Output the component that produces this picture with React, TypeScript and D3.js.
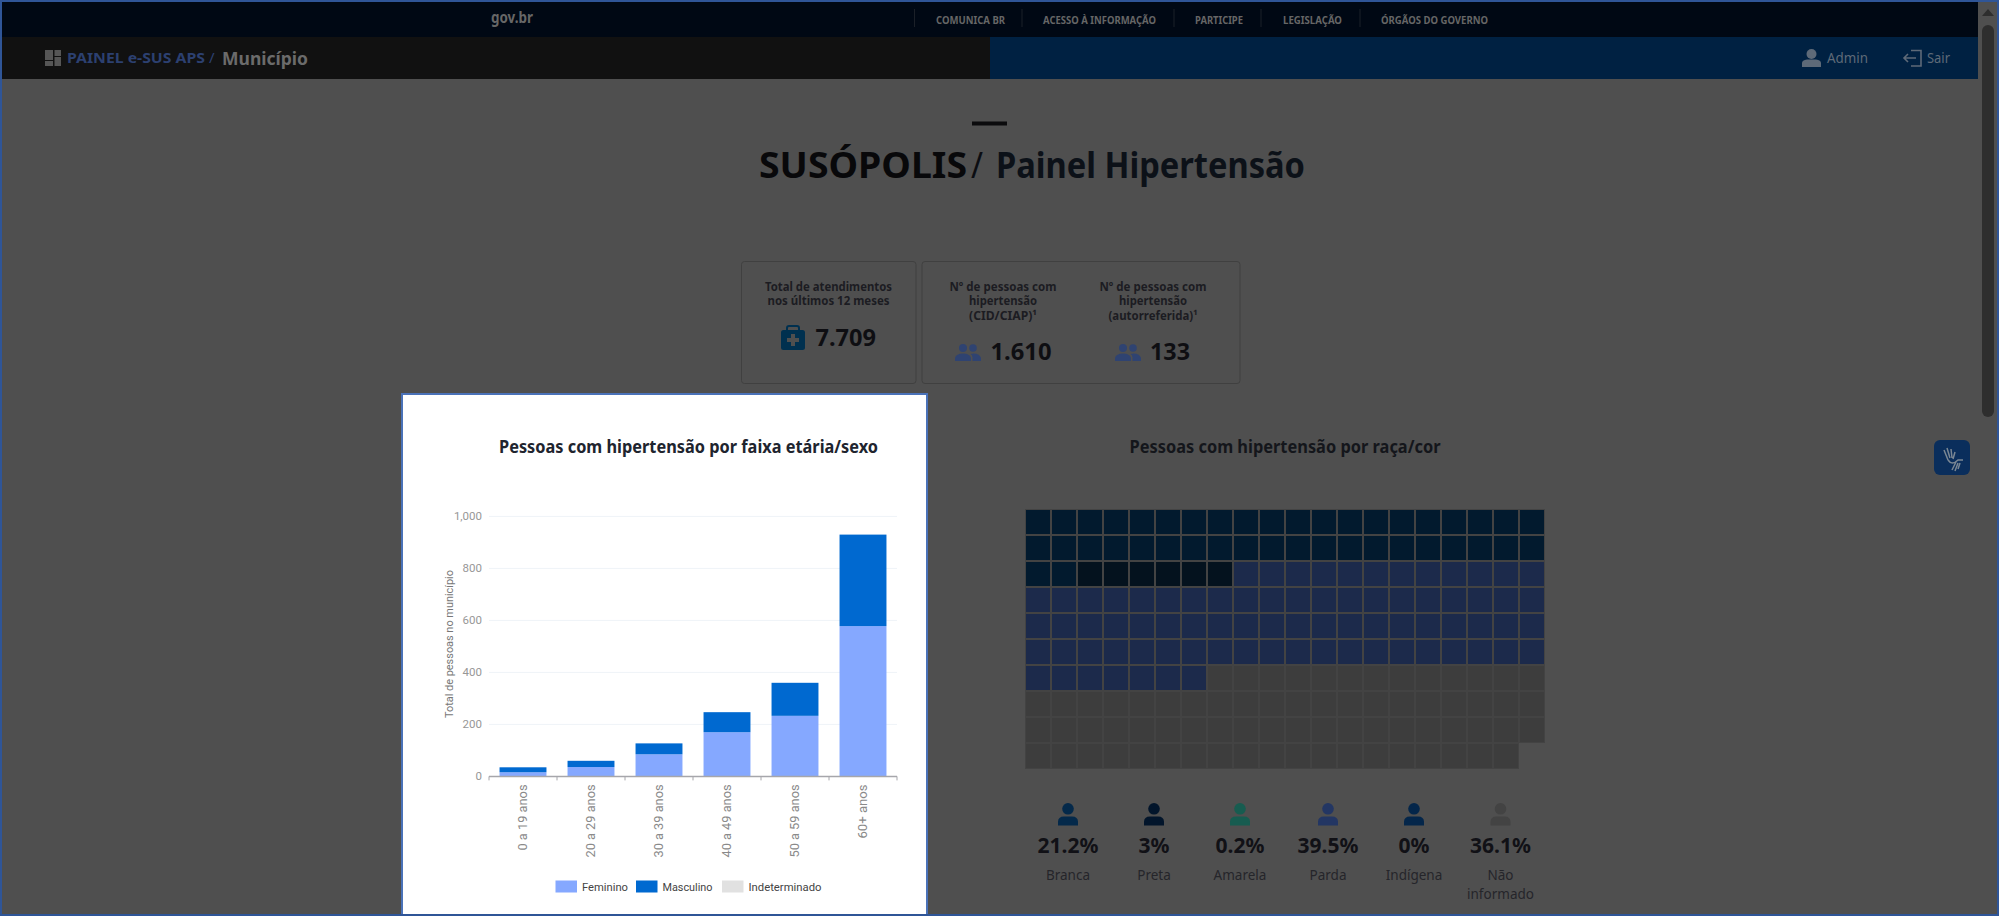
import React from "react";
import * as d3 from "d3";

const ageGroups = ["0 a 19 anos", "20 a 29 anos", "30 a 39 anos", "40 a 49 anos", "50 a 59 anos", "60+ anos"];
const feminino = [16, 36, 85, 170, 233, 578];
const masculino = [19, 24, 42, 77, 127, 352];
const indeterminado = [0, 0, 0, 0, 0, 0];
const yTicks = [0, 200, 400, 600, 800, 1000];
const sexLabels = ["Feminino", "Masculino", "Indeterminado"];
const sexColors = ["#85a8ff", "#0069d0", "#e1e1e1"];

const raceLabels = ["Branca", "Preta", "Amarela", "Parda", "Indígena", "Não informado"];
const racePercents = ["21.2%", "3%", "0.2%", "39.5%", "0%", "36.1%"];
const raceCells = [42, 6, 0, 79, 0, 72];
const raceCellColors = ["#021a2e", "#04121e", "#175c50", "#1c2a4b", "#04264a", "#3d3d3d"];
const raceIconColors = ["#04294a", "#02152b", "#175c50", "#233663", "#04264a", "#434343"];

const navItems = ["COMUNICA BR", "ACESSO À INFORMAÇÃO", "PARTICIPE", "LEGISLAÇÃO", "ÓRGÃOS DO GOVERNO"];
const navX = [936, 1043, 1195, 1283, 1381];
const navW = [69, 113, 48, 59, 107];
const navSep = [914.5, 1022, 1174, 1261, 1360];

const FONT = "'Noto Sans', sans-serif";

type TP = { x: number; y: number; s: number; w?: number; c: string; a?: string; l?: number; f?: string; t?: string; children: React.ReactNode };
function T({ x, y, s, w = 400, c, a = "start", l, f = FONT, t, children }: TP) {
  return (
    <text x={x} y={y} fontSize={s} fontWeight={w} fill={c} textAnchor={a} fontFamily={f} transform={t}
      {...(l ? { textLength: l, lengthAdjust: "spacingAndGlyphs" } : {})}>
      {children}
    </text>
  );
}

function Person({ cx, top, color }: { cx: number; top: number; color: string }) {
  return (
    <g transform={`translate(${cx},${top})`} fill={color}>
      <circle cx={0} cy={5.8} r={5.8} />
      <path d="M-10 22.5 V19 Q-10 13.5 -4 13.5 H4 Q10 13.5 10 19 V22.5 Z" />
    </g>
  );
}
function Group({ x, y, color }: { x: number; y: number; color: string }) {
  return (
    <g transform={`translate(${x},${y})`} fill={color}>
      <circle cx={8} cy={4} r={4} />
      <circle cx={18} cy={4} r={3.8} />
      <path d="M0 17 V14 Q1 9.5 8 9.5 Q15 9.5 16 14 V17 Z" />
      <path d="M17.5 17 V13.5 Q17.5 11 15.5 10 Q17 9.4 18.5 9.4 Q25 9.5 26 14 V17 Z" />
    </g>
  );
}

export default function App() {
  const x = d3.scaleBand<string>().domain(ageGroups).range([489, 897]).paddingInner(0.31).paddingOuter(0.155);
  const xOuter = d3.scaleBand<string>().domain(ageGroups).range([489, 897]);
  const y = d3.scaleLinear().domain([0, 1000]).range([776.4, 516.4]);
  const stack = d3.stack<any>().keys(["f", "m", "i"])(
    ageGroups.map((g, i) => ({ g, f: feminino[i], m: masculino[i], i: indeterminado[i] }))
  );

  const cols = d3.scaleBand<number>().domain(d3.range(20)).range([1025, 1545]);
  const rows = d3.scaleBand<number>().domain(d3.range(10)).range([509, 769]);
  const cells: { color: string; idx: number }[] = [];
  raceCells.forEach((n, k) => d3.range(n).forEach(() => cells.push({ color: raceCellColors[k], idx: cells.length })));

  const statX = [1068, 1154, 1240, 1328, 1414, 1500.5];

  return (
    <svg width={1999} height={916} viewBox="0 0 1999 916"
      style={{ position: "absolute", left: 0, top: 0, display: "block", background: "#4f4f4f" }}>
      {/* top bars */}
      <rect x={0} y={0} width={1978} height={37} fill="#000814" />
      <rect x={0} y={37} width={990} height={42} fill="#111111" />
      <rect x={990} y={37} width={988} height={42} fill="#002142" />
      <T x={491} y={23} s={16} w={700} c="#666666" l={42}>gov.br</T>
      {navItems.map((n, i) => (
        <g key={n}>
          <line x1={navSep[i]} x2={navSep[i]} y1={9} y2={27} stroke="#1b2028" />
          <T x={navX[i]} y={23.5} s={10} w={700} c="#666666" l={navW[i]}>{n}</T>
        </g>
      ))}
      <g fill="#565656">
        <rect x={45} y={50} width={8} height={10} />
        <rect x={54.5} y={50} width={6.5} height={6} />
        <rect x={45} y={61} width={8} height={5} />
        <rect x={54.5} y={57} width={6.5} height={9} />
      </g>
      <T x={67} y={63} s={14} w={700} c="#2c4070" l={138}>PAINEL e-SUS APS</T>
      <T x={209} y={63} s={15} c="#2c4070">/</T>
      <T x={222} y={65} s={18} w={700} c="#6b6b6b" l={86}>Município</T>
      <g fill="#5e6a78">
        <circle cx={1811.5} cy={54} r={5} />
        <path d="M1802 67 V63 Q1802 60 1807 59.5 H1816 Q1821 60 1821 63 V67 Z" />
      </g>
      <T x={1827} y={63} s={14} c="#5e6a78" l={41}>Admin</T>
      <g fill="none" stroke="#5e6a78" strokeWidth={1.6}>
        <path d="M1911 50.5 H1921 V66 H1911" />
        <path d="M1916 58 H1904 M1908 54 L1904 58 L1908 62" />
      </g>
      <T x={1927} y={63} s={14} c="#5e6a78" l={23}>Sair</T>

      {/* scrollbar */}
      <path d="M1988 9 L1994 16 H1982 Z" fill="#2e2e2e" />
      <rect x={1982} y={25} width={12} height={392} rx={6} fill="#2e2e2e" />
      <rect x={1934} y={440} width={36} height={35} rx={6} fill="#0a2e5c" />
      <g stroke="#7a8794" strokeWidth={1.5} fill="none">
        <path d="M1944 450 L1948 460 M1947 448 L1950 458 M1951 449 L1952 458 M1955 452 L1953 459" />
        <path d="M1948 460 Q1952 466 1958 460 L1963 460 M1952 470 L1956 462 M1955 471 L1958 463 M1958 469 L1960 463" />
      </g>

      {/* page heading */}
      <rect x={972} y={121.5} width={35} height={4} fill="#0b0b0d" />
      <T x={759} y={177.5} s={36} w={700} c="#08080a" l={208}>SUSÓPOLIS</T>
      <T x={971} y={177.5} s={36} w={400} c="#0b0d12" l={12}>/</T>
      <T x={996} y={177.5} s={36} w={700} c="#0c1118" l={309}>Painel Hipertensão</T>

      {/* cards */}
      <rect x={741.5} y={261.5} width={174.5} height={122} rx={3} fill="none" stroke="#404040" />
      <rect x={922} y={261.5} width={318} height={122} rx={3} fill="none" stroke="#404040" />
      <T x={828.5} y={290.5} s={12.5} w={700} c="#1c1c22" a="middle" l={127}>Total de atendimentos</T>
      <T x={828.5} y={305.2} s={12.5} w={700} c="#1c1c22" a="middle" l={122}>nos últimos 12 meses</T>
      <g>
        <path d="M787 330 V328 Q787 326 789 326 H797 Q799 326 799 328 V330" fill="none" stroke="#00304f" strokeWidth={2} />
        <rect x={781} y={330} width={24} height={20} rx={2.5} fill="#00304f" />
        <path d="M791 334 H795 V338 H799 V342 H795 V346 H791 V342 H787 V338 H791 Z" fill="#4f4f4f" />
      </g>
      <T x={815.5} y={346} s={23} w={700} c="#0e0e12" l={60.5}>7.709</T>
      {[["Nº de pessoas com", "hipertensão", "(CID/CIAP)¹"], ["Nº de pessoas com", "hipertensão", "(autorreferida)¹"]].map((lines, k) =>
        lines.map((ln, i) => (
          <T key={ln + k} x={k ? 1153 : 1003} y={290.5 + i * 14.6} s={12.5} w={700} c="#1c1c22" a="middle"
            l={[107, 68, k ? 89 : 68][i]}>{ln}</T>
        ))
      )}
      <Group x={955} y={344} color="#2f4371" />
      <T x={990.5} y={360} s={23} w={700} c="#0e0e12" l={61}>1.610</T>
      <Group x={1115} y={344} color="#2f4371" />
      <T x={1150} y={360} s={23} w={700} c="#0e0e12" l={40}>133</T>

      {/* highlighted card */}
      <rect x={402} y={394} width={525} height={522} fill="#ffffff" />
      <path d="M402 916 V394 H927 V916" fill="none" stroke="#4a72b8" strokeWidth={2} />
      <line x1={402} x2={927} y1={914.5} y2={914.5} stroke="#b0b3b8" strokeWidth={1} />
      <T x={499} y={452.5} s={17} w={700} c="#20242e" l={379}>Pessoas com hipertensão por faixa etária/sexo</T>

      {yTicks.filter((t) => t > 0).map((t) => (
        <line key={t} x1={489} x2={897} y1={y(t)} y2={y(t)} stroke="#eff3f8" strokeWidth={1} />
      ))}
      {yTicks.map((t) => (
        <T key={t} x={482} y={y(t) + 4} s={11.5} c="#979797" a="end" f="Roboto, sans-serif">{d3.format(",")(t)}</T>
      ))}
      <T x={0} y={0} s={11} c="#777777" a="middle" l={148} f="Roboto, sans-serif" t="translate(453,644) rotate(-90)">Total de pessoas no município</T>

      {stack.map((layer, k) => (
        <g key={k} fill={sexColors[k]}>
          {layer.map((d, i) => (
            <rect key={i} x={x(ageGroups[i])} width={x.bandwidth()} y={y(d[1])} height={y(d[0]) - y(d[1])} />
          ))}
        </g>
      ))}

      <g stroke="#a6a6ab" fill="none">
        <line x1={489} x2={897} y1={y(0)} y2={y(0)} strokeWidth={1.5} />
        {[...ageGroups.map((g) => xOuter(g)!), 897].map((v) => (
          <line key={v} x1={v} x2={v} y1={y(0)} y2={y(0) + 4} />
        ))}
      </g>
      {ageGroups.map((g) => (
        <T key={g} x={0} y={0} s={12} c="#8a8a8a" a="end" f="Roboto, sans-serif"
          t={`translate(${xOuter(g)! + xOuter.bandwidth() / 2 + 4},784.5) rotate(-90)`}
          l={g === "60+ anos" ? 54 : g === "0 a 19 anos" ? 66 : 73}>{g}</T>
      ))}

      {sexLabels.map((s, i) => {
        const sx = [555.5, 636, 722][i];
        const w = [46, 50, 73][i];
        return (
          <g key={s}>
            <rect x={sx} y={880.5} width={21.5} height={12} fill={sexColors[i]} />
            <T x={sx + 26.5} y={891} s={11.5} c="#444" l={w} f="Roboto, sans-serif">{s}</T>
          </g>
        );
      })}

      {/* waffle */}
      <T x={1285} y={452.5} s={17} w={700} c="#14161b" a="middle" l={311}>Pessoas com hipertensão por raça/cor</T>
      {cells.map((c) => (
        <rect key={c.idx}
          x={cols(c.idx % 20)! + 0.5}
          y={rows(Math.floor(c.idx / 20))! + 0.5}
          width={cols.bandwidth() - 1}
          height={rows.bandwidth() - 1}
          fill={c.color} stroke="#434343" strokeWidth={1} />
      ))}

      {raceLabels.map((r, i) => (
        <g key={r}>
          <Person cx={statX[i]} top={803} color={raceIconColors[i]} />
          <T x={statX[i]} y={852.5} s={21} w={700} c="#111116" a="middle">{racePercents[i]}</T>
          {r === "Não informado" ? (
            <>
              <T x={statX[i]} y={879.5} s={13.5} c="#25252a" a="middle">Não</T>
              <T x={statX[i]} y={898.5} s={13.5} c="#25252a" a="middle">informado</T>
            </>
          ) : (
            <T x={statX[i]} y={879.5} s={13.5} c="#25252a" a="middle">{r}</T>
          )}
        </g>
      ))}

      {/* outer frame */}
      <rect x={1} y={1} width={1997} height={914} fill="none" stroke="#2f5597" strokeWidth={2} />
    </svg>
  );
}
